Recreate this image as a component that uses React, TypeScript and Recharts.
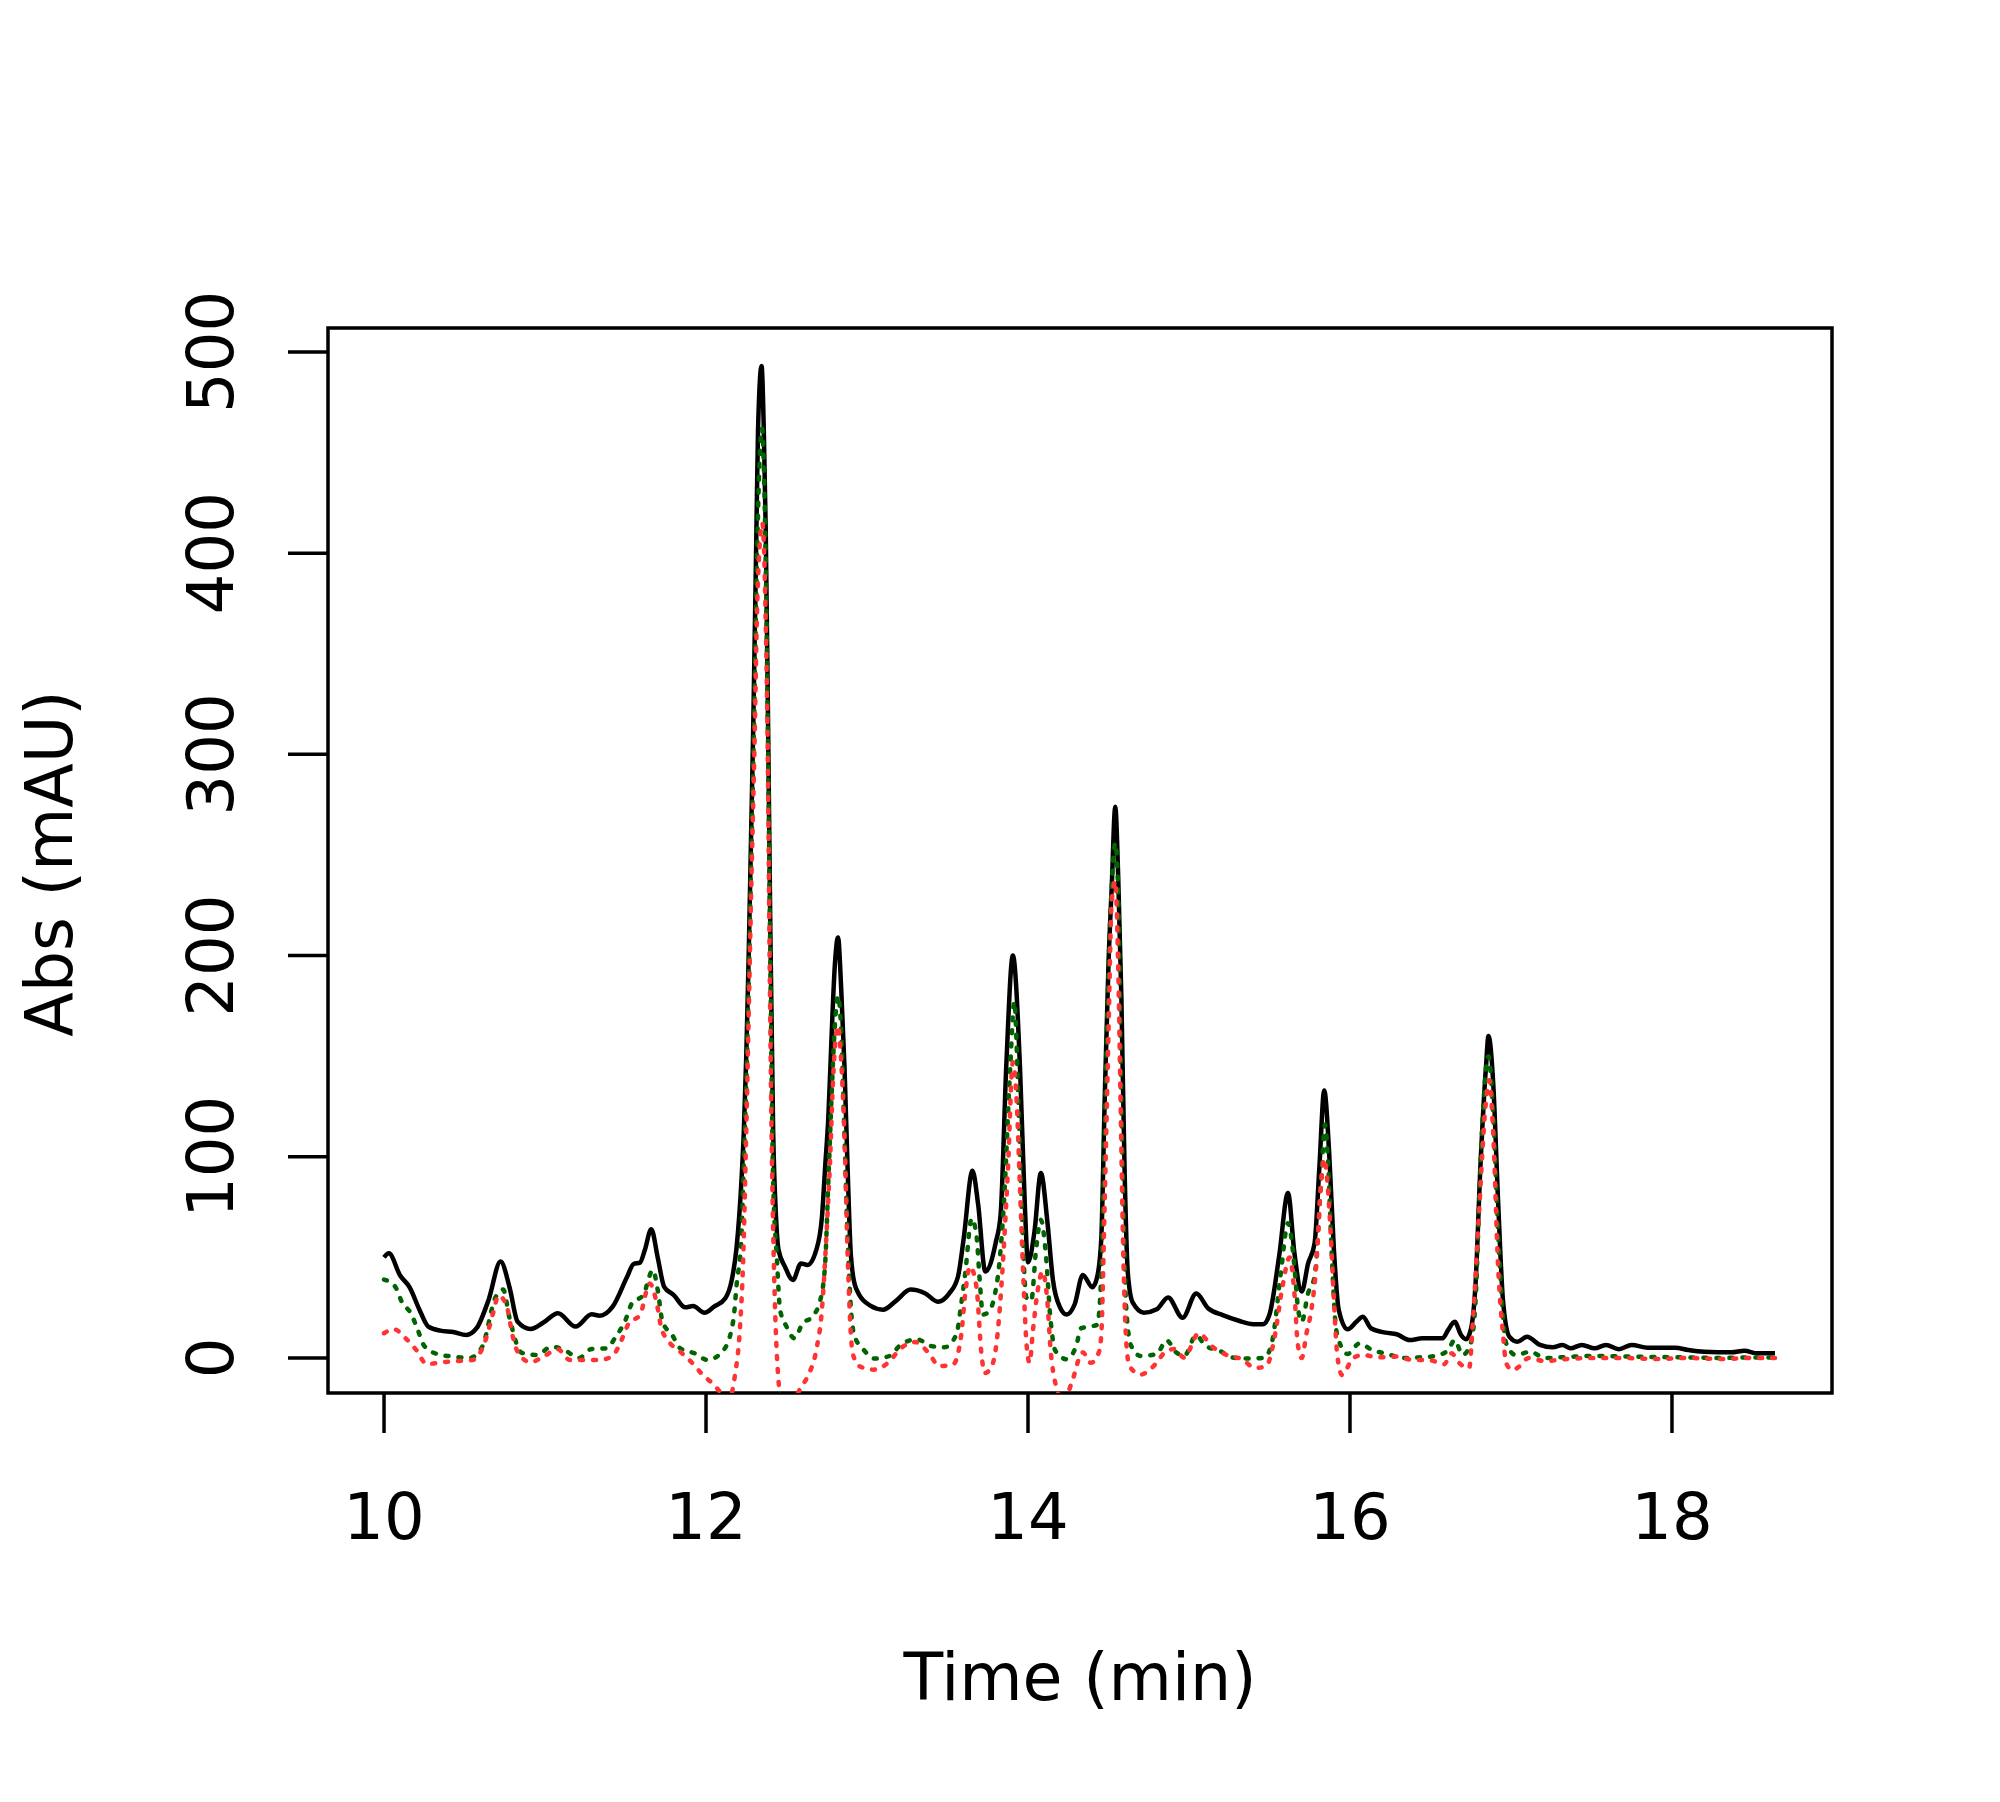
import React from 'react';
import { LineChart, Line, XAxis, YAxis, ReferenceArea } from 'recharts';

// ---- data (time in min, absorbance in mAU) ----
const blackT = [10.0, 10.03, 10.1, 10.16, 10.22, 10.275, 10.35, 10.43, 10.51, 10.575, 10.65, 10.724, 10.78, 10.83, 10.91, 10.99, 11.08, 11.19, 11.29, 11.34, 11.42, 11.51, 11.55, 11.59, 11.62, 11.66, 11.7, 11.74, 11.8, 11.87, 11.92, 11.99, 12.05, 12.12, 12.16, 12.19, 12.22, 12.235, 12.25, 12.265, 12.28, 12.293, 12.313, 12.323, 12.345, 12.359, 12.371, 12.386, 12.4, 12.417, 12.435, 12.45, 12.49, 12.54, 12.59, 12.63, 12.685, 12.72, 12.74, 12.76, 12.78, 12.8, 12.82, 12.84, 12.86, 12.88, 12.9, 12.93, 13.02, 13.1, 13.18, 13.27, 13.36, 13.44, 13.51, 13.565, 13.6, 13.655, 13.69, 13.735, 13.8, 13.83, 13.865, 13.906, 13.95, 13.98, 14.0, 14.04, 14.08, 14.12, 14.155, 14.2, 14.24, 14.29, 14.34, 14.4, 14.43, 14.455, 14.476, 14.5, 14.52, 14.542, 14.56, 14.58, 14.6, 14.62, 14.65, 14.72, 14.8, 14.87, 14.96, 15.045, 15.12, 15.21, 15.31, 15.4, 15.46, 15.5, 15.56, 15.615, 15.655, 15.7, 15.74, 15.78, 15.81, 15.84, 15.87, 15.9, 15.93, 15.985, 16.04, 16.08, 16.13, 16.22, 16.29, 16.37, 16.45, 16.575, 16.61, 16.65, 16.69, 16.72, 16.75, 16.78, 16.81, 16.845, 16.86, 16.89, 16.92, 16.95, 16.99, 17.04, 17.1, 17.18, 17.26, 17.32, 17.37, 17.44, 17.52, 17.59, 17.67, 17.75, 17.85, 18.02, 18.1, 18.2, 18.37, 18.45, 18.53, 18.64];
const blackV = [50, 52, 41, 35, 24, 15.6, 13.6, 12.9, 11.4, 14.8, 29, 48, 35, 18, 14.4, 17.6, 22.2, 15.6, 21.7, 21, 25.5, 40.4, 46.7, 47.4, 53.7, 64, 50, 35.4, 31.3, 25.2, 25.8, 22.5, 25.5, 29.7, 38.8, 55, 88, 113, 150, 200, 260, 312, 411, 461, 493, 461, 411, 312, 210, 113, 70, 54, 45.4, 38.8, 47, 46.2, 53.7, 70, 95, 120, 160, 195, 209, 183, 145, 93, 51, 35, 26, 24, 28.4, 34, 32.2, 28, 32, 40.4, 59, 93, 76.5, 43, 57.5, 71.4, 145, 200, 145, 76.5, 47.6, 62.7, 92, 68, 38.7, 25, 21.6, 26.7, 41.3, 35.2, 40.4, 59, 127, 196, 234, 274, 240, 179, 93, 42.4, 27.6, 22.5, 24.2, 30.1, 20, 32, 24.6, 21.3, 18.5, 16.8, 16.8, 21.6, 50.7, 82, 52, 33, 47, 57, 95, 133, 103, 54, 24, 14.3, 18, 20.5, 14.8, 12.6, 11.8, 8.9, 9.8, 9.8, 14, 18, 11.4, 9.3, 14, 37, 95, 145, 160, 136, 78, 29, 10.6, 8.1, 10.6, 6.5, 5.3, 6.5, 4.8, 6.5, 4.8, 6.5, 4.3, 6.5, 5.1, 5.1, 4, 3.1, 2.8, 3.6, 2.3, 2.3];

const greenT = [10.0, 10.07, 10.11, 10.17, 10.21, 10.25, 10.33, 10.43, 10.53, 10.61, 10.69, 10.74, 10.78, 10.855, 10.95, 11.04, 11.12, 11.21, 11.29, 11.38, 11.44, 11.5, 11.54, 11.61, 11.67, 11.7, 11.73, 11.79, 11.84, 11.93, 12.01, 12.106, 12.17, 12.19, 12.22, 12.235, 12.25, 12.265, 12.28, 12.295, 12.315, 12.33, 12.348, 12.36, 12.372, 12.386, 12.4, 12.417, 12.44, 12.46, 12.5, 12.55, 12.6, 12.66, 12.71, 12.74, 12.76, 12.78, 12.8, 12.82, 12.84, 12.86, 12.88, 12.9, 12.92, 12.975, 13.05, 13.14, 13.21, 13.31, 13.4, 13.48, 13.555, 13.585, 13.61, 13.65, 13.68, 13.7, 13.72, 13.76, 13.79, 13.82, 13.85, 13.89, 13.915, 13.94, 13.96, 13.99, 14.02, 14.05, 14.08, 14.11, 14.14, 14.17, 14.24, 14.3, 14.33, 14.38, 14.43, 14.455, 14.476, 14.5, 14.52, 14.542, 14.56, 14.58, 14.6, 14.61, 14.64, 14.7, 14.8, 14.86, 14.92, 14.97, 15.045, 15.1, 15.19, 15.27, 15.38, 15.47, 15.52, 15.57, 15.615, 15.655, 15.675, 15.7, 15.74, 15.78, 15.82, 15.845, 15.865, 15.89, 15.91, 15.93, 15.985, 16.06, 16.13, 16.23, 16.34, 16.43, 16.53, 16.61, 16.65, 16.7, 16.75, 16.78, 16.81, 16.86, 16.89, 16.92, 16.95, 16.97, 17.03, 17.12, 17.21, 17.35, 17.5, 17.7, 17.9, 18.1, 18.3, 18.5, 18.64];
const greenV = [39, 35.4, 28, 21.7, 13.9, 6, 2, 0.7, 0, 5.6, 29.7, 34, 19.7, 2.6, 1.5, 5.6, 4, 0, 4.5, 4.8, 10.6, 18.9, 27.2, 31.3, 43.7, 33.8, 18, 11.4, 4.8, 2.3, -1, 3.6, 18.9, 36.3, 60, 97, 135, 185, 245, 300, 390, 440, 462, 440, 390, 300, 195, 88, 50, 24, 15.6, 9.8, 17.2, 20.5, 28.8, 47, 88, 130, 165, 180, 162, 110.6, 59, 25, 11.4, 4.5, -0.3, 1, 6.6, 9.3, 5.9, 5.3, 11.6, 26.7, 42, 69.3, 61, 38.7, 21.6, 23.3, 30.1, 45.5, 76.5, 145, 177, 128, 76.5, 30, 28.4, 53.8, 68.7, 52.4, 19, 3.6, -0.6, 6.2, 14.8, 15.6, 16.5, 42, 110.6, 193, 234, 256, 232, 127, 50.7, 25, 6.2, 1, 2, 8.8, 2.8, 1, 11.3, 6.2, 3.6, 0.2, -0.3, 0.2, 9.6, 42, 67, 45.4, 26.3, 18, 32.2, 40.4, 87, 116, 95, 45.4, 17.2, 8.9, 2, 7.3, 4.3, 2, 0, 0.3, 1, 4, 8.9, 1.5, 7.3, 28.8, 95, 150, 120, 62, 21, 7.3, 1.5, 3.1, 0, 0.5, 1, 0.8, 0.5, 0.3, 0, 0.3, 0.3];

const redT = [10.0, 10.06, 10.14, 10.2, 10.265, 10.36, 10.46, 10.55, 10.62, 10.68, 10.71, 10.76, 10.8, 10.83, 10.91, 10.99, 11.08, 11.155, 11.25, 11.34, 11.42, 11.475, 11.52, 11.59, 11.65, 11.7, 11.72, 11.765, 11.84, 11.91, 11.98, 12.05, 12.1, 12.14, 12.18, 12.21, 12.23, 12.25, 12.265, 12.28, 12.3, 12.32, 12.35, 12.37, 12.385, 12.395, 12.407, 12.417, 12.43, 12.45, 12.47, 12.51, 12.55, 12.58, 12.63, 12.685, 12.72, 12.75, 12.77, 12.79, 12.82, 12.84, 12.86, 12.88, 12.9, 12.91, 12.95, 13.04, 13.13, 13.21, 13.3, 13.38, 13.45, 13.535, 13.585, 13.61, 13.64, 13.68, 13.71, 13.73, 13.77, 13.81, 13.84, 13.875, 13.906, 13.93, 13.95, 13.97, 13.99, 14.01, 14.03, 14.06, 14.09, 14.12, 14.14, 14.17, 14.22, 14.27, 14.34, 14.39, 14.44, 14.455, 14.476, 14.5, 14.52, 14.542, 14.56, 14.575, 14.59, 14.61, 14.63, 14.7, 14.79, 14.85, 14.91, 14.97, 15.06, 15.15, 15.25, 15.33, 15.41, 15.48, 15.53, 15.58, 15.625, 15.655, 15.675, 15.7, 15.73, 15.76, 15.79, 15.82, 15.84, 15.86, 15.88, 15.9, 15.92, 15.95, 16.02, 16.08, 16.17, 16.29, 16.39, 16.49, 16.585, 16.63, 16.68, 16.74, 16.765, 16.8, 16.845, 16.865, 16.89, 16.92, 16.95, 16.97, 17.01, 17.05, 17.11, 17.21, 17.35, 17.5, 17.7, 17.9, 18.1, 18.3, 18.5, 18.64];
const redV = [12.3, 14.3, 9.3, 4, -3, -2.1, -1.5, -1, 6.5, 23, 31, 26.3, 10.6, 3.1, -2.1, 0.7, 4.3, -1, -1, -1, 1.1, 8.9, 17.2, 21.4, 37, 24.7, 15.6, 8.6, 3.1, -2.1, -8.4, -13.4, -18, -21, -8.4, 14, 47, 113, 170, 230, 300, 380, 415, 370, 290, 200, 113, 64, 22, -11, -22, -26, -22, -16, -9.3, 4, 24, 64, 97, 140, 165, 147, 110.6, 50.7, 11.4, 2.8, -4, -5.8, -2.4, 4.8, 7.9, 2.8, -4, -3.2, 11.3, 32, 45.5, 35.2, 2.8, -7.5, -5, 11.3, 42, 93, 147, 127, 84.8, 42, 7.9, -2.4, 13, 33.5, 43, 28.4, 4.5, -12.6, -22, -12.6, 2.8, -2.4, 2.8, 11.3, 76.5, 162, 227, 237, 196, 127, 59, 8.3, -4, -8.2, -3.2, 2.8, 4.5, 0.2, 12.2, 5.3, 1, -0.6, -5, -4, 9.6, 35.2, 50, 32, 7.3, 0, 12.3, 23.9, 45.4, 87, 99, 87, 62, 29, 2.3, -8.4, 0, 1.5, 0.3, 0.7, -1, -1, -3.1, 2.3, -2.6, -5.1, 20.5, 70, 128, 138, 111, 45.4, 12.3, -2.6, -6, -4.3, 0, -1.5, -0.5, 0, 0, -0.5, 0, -0.5, 0, 0];

const xTicks = [10, 12, 14, 16, 18];
const yTicks = [0, 100, 200, 300, 400, 500];
const X_DOMAIN: [number, number] = [9.652, 18.994];
const Y_DOMAIN: [number, number] = [-17.4, 511.9];

const toRows = (ts: number[], vs: number[]) => ts.map((t, i) => ({ t, v: vs[i] }));
const blackData = toRows(blackT, blackV);
const greenData = toRows(greenT, greenV);
const redData = toRows(redT, redV);

const FONT = '"DejaVu Sans", sans-serif';
const FS = 64;

const XTick = (props: any) => {
  const { x, y, payload } = props;
  return (
    <text x={x} y={y} dy={106} textAnchor="middle" fontFamily={FONT} fontSize={FS} fill="#000">
      {payload.value}
    </text>
  );
};

const YTick = (props: any) => {
  const { x, y, payload } = props;
  const bx = x - 55;
  return (
    <text x={bx} y={y} transform={`rotate(-90, ${bx}, ${y})`} textAnchor="middle" fontFamily={FONT} fontSize={FS} fill="#000">
      {payload.value}
    </text>
  );
};

export default function App() {
  return (
    <div style={{ position: 'absolute', left: 0, top: 0, width: 2000, height: 1802, background: '#fff' }}>
      <LineChart width={2000} height={1802} margin={{ top: 328, right: 168, bottom: 0, left: 0 }}>
        <XAxis
          dataKey="t"
          type="number"
          domain={X_DOMAIN}
          allowDataOverflow
          ticks={xTicks}
          height={409}
          axisLine={false}
          tickSize={40}
          tickMargin={0}
          tickLine={{ stroke: '#000', strokeWidth: 3.5 }}
          tick={<XTick />}
          label={{
            content: (p: any) => {
              const vb = p.viewBox;
              return (
                <text x={vb.x + vb.width / 2} y={vb.y + 307} textAnchor="middle" fontFamily={FONT} fontSize={65} fill="#000">
                  Time (min)
                </text>
              );
            },
          }}
        />
        <YAxis
          type="number"
          domain={Y_DOMAIN}
          allowDataOverflow
          ticks={yTicks}
          width={328}
          axisLine={false}
          tickSize={40}
          tickMargin={0}
          tickLine={{ stroke: '#000', strokeWidth: 3.5 }}
          tick={<YTick />}
          label={{
            content: (p: any) => {
              const vb = p.viewBox;
              const cx = 72;
              const cy = vb.y + vb.height / 2 + 3;
              return (
                <text x={cx} y={cy} transform={`rotate(-90, ${cx}, ${cy})`} textAnchor="middle" fontFamily={FONT} fontSize={65} fill="#000">
                  Abs (mAU)
                </text>
              );
            },
          }}
        />
        <Line data={blackData} dataKey="v" type="monotone" stroke="#000" strokeWidth={4.5} dot={false} isAnimationActive={false} strokeLinejoin="round" />
        <Line data={greenData} dataKey="v" type="monotone" stroke="#006400" strokeWidth={4.5} strokeDasharray="3 10" strokeLinecap="round" dot={false} isAnimationActive={false} />
        <Line data={redData} dataKey="v" type="monotone" stroke="#FF3333" strokeWidth={4.5} strokeDasharray="3 10" strokeLinecap="round" dot={false} isAnimationActive={false} />
        <ReferenceArea x1={X_DOMAIN[0]} x2={X_DOMAIN[1]} y1={Y_DOMAIN[0]} y2={Y_DOMAIN[1]} fill="none" fillOpacity={0} stroke="#000" strokeWidth={3.5} ifOverflow="visible" />
      </LineChart>
    </div>
  );
}
